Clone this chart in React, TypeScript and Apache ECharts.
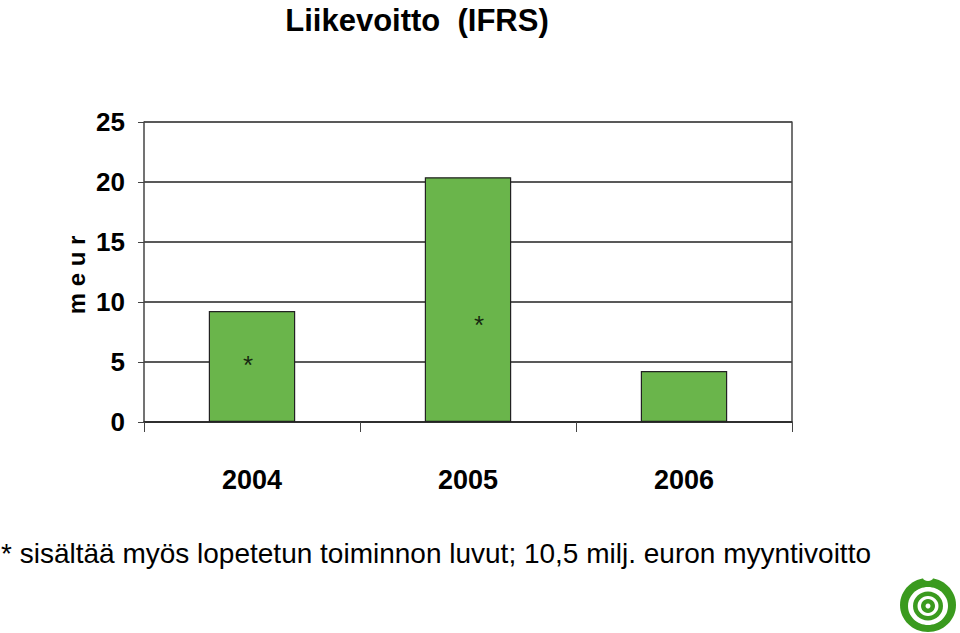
import React, { useEffect, useRef } from "react";
import * as echarts from "echarts";

const categories = ["2004", "2005", "2006"];
const profitValues = [9.25, 20.4, 4.25];
const yTicks = { min: 0, max: 25, interval: 5 };
const asteriskPoints: [number, number][] = [
  [0, 5.2],
  [1, 8.5],
];
const titleText = "Liikevoitto  (IFRS)";
const unitText = "m e u r";
const footnoteText = "* sisältää myös lopetetun toiminnon luvut; 10,5 milj. euron myyntivoitto";

const sans = "'Liberation Sans', Arial, sans-serif";
const green = "#6AB54B";
const logoGreen = "#3A9A1E";

export default function App() {
  const ref = useRef<HTMLDivElement>(null);
  useEffect(() => {
    if (!ref.current) return;
    const chart = echarts.init(ref.current, undefined, { renderer: "svg" });
    chart.setOption({
      animation: false,
      backgroundColor: "#ffffff",
      grid: { left: 144, right: 168, top: 122, bottom: 211, containLabel: false },
      xAxis: {
        type: "category",
        data: categories,
        boundaryGap: true,
        axisLine: { show: true, lineStyle: { color: "#222", width: 1.5 } },
        axisTick: { show: true, length: 10, lineStyle: { color: "#444", width: 1 } },
        axisLabel: {
          margin: 44,
          fontFamily: sans,
          fontWeight: "bold",
          fontSize: 27,
          color: "#000",
        },
      },
      yAxis: [
        {
          type: "value",
          min: yTicks.min,
          max: yTicks.max,
          interval: yTicks.interval,
          axisLine: { show: true, lineStyle: { color: "#444", width: 1.5 } },
          axisTick: { show: true, length: 6, lineStyle: { color: "#444", width: 1 } },
          splitLine: { show: true, lineStyle: { color: "#222", width: 1.5 } },
          axisLabel: {
            margin: 19,
            fontFamily: sans,
            fontWeight: "bold",
            fontSize: 26,
            color: "#000",
          },
        },
        {
          type: "value",
          position: "right",
          min: yTicks.min,
          max: yTicks.max,
          interval: yTicks.interval,
          axisLine: { show: true, lineStyle: { color: "#444", width: 1.5 } },
          axisTick: { show: false },
          splitLine: { show: false },
          axisLabel: { show: false },
        },
      ],
      series: [
        {
          type: "bar",
          data: profitValues,
          barWidth: "40%",
          itemStyle: { color: green, borderColor: "#222", borderWidth: 1.2 },
          z: 3,
        },
        {
          type: "scatter",
          data: asteriskPoints,
          symbolSize: 1,
          itemStyle: { color: "transparent" },
          label: {
            show: true,
            position: "inside",
            formatter: "*",
            fontFamily: sans,
            fontSize: 26,
            color: "#000",
          },
          labelLayout: (params: any) => ({
            dx: params.dataIndex === 0 ? -4 : 11,
            dy: 5,
          }),
          z: 5,
        },
      ],
      graphic: [
        {
          type: "text",
          x: 417,
          y: 20,
          style: {
            text: titleText,
            fontFamily: sans,
            fontWeight: "bold",
            fontSize: 31,
            fill: "#000",
            align: "center",
            verticalAlign: "middle",
          },
        },
        {
          type: "text",
          x: 76,
          y: 275,
          rotation: Math.PI / 2,
          style: {
            text: unitText,
            fontFamily: sans,
            fontWeight: "bold",
            fontSize: 24,
            fill: "#000",
            align: "center",
            verticalAlign: "middle",
          },
        },
        {
          type: "text",
          x: 1,
          y: 553,
          style: {
            text: footnoteText,
            fontFamily: sans,
            fontSize: 28,
            fill: "#000",
            align: "left",
            verticalAlign: "middle",
          },
        },
        {
          type: "group",
          x: 928,
          y: 605,
          children: [
            { type: "ellipse", shape: { cx: 0, cy: 0, rx: 28, ry: 27 }, style: { fill: logoGreen } },
            { type: "ellipse", shape: { cx: 0, cy: -27, rx: 5, ry: 3 }, style: { fill: "#fff" } },
            { type: "ellipse", shape: { cx: 0, cy: 1, rx: 20, ry: 19 }, style: { fill: "#fff" } },
            { type: "ellipse", shape: { cx: 0, cy: 1, rx: 15, ry: 14.5 }, style: { fill: logoGreen } },
            { type: "ellipse", shape: { cx: 0, cy: 1, rx: 10.5, ry: 10 }, style: { fill: "#fff" } },
            { type: "circle", shape: { cx: 0, cy: 1, r: 7 }, style: { fill: logoGreen } },
            { type: "circle", shape: { cx: 0, cy: 1, r: 2.5 }, style: { fill: "#fff" } },
          ],
        },
      ],
    });
    return () => chart.dispose();
  }, []);
  return (
    <div
      ref={ref}
      style={{ position: "fixed", left: 0, top: 0, width: 960, height: 633 }}
    />
  );
}
